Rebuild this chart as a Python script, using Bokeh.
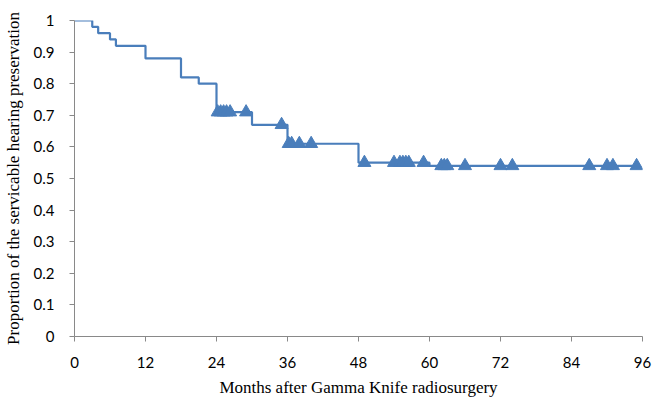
from bokeh.plotting import figure
from bokeh.models import FixedTicker, Range1d
from bokeh.embed import file_html
from bokeh.resources import INLINE

# Kaplan-Meier step curve (time in months, proportion)
step_times = [0, 3, 4, 6, 7, 12, 18, 21, 24, 30, 36, 48, 60, 95]
step_props = [1.0, 0.98, 0.96, 0.94, 0.92, 0.88, 0.82, 0.80, 0.71, 0.67, 0.61, 0.55, 0.54, 0.54]

# censored observations
cens_times = [24.2, 24.7, 25.2, 25.7, 26.3, 29, 35, 36.2, 36.7, 38, 40,
              49, 54, 55, 55.5, 56, 56.5, 59, 62, 62.5, 63, 66, 72, 74, 87, 90, 91, 95]
cens_props = [0.71, 0.71, 0.71, 0.71, 0.71, 0.71, 0.67, 0.61, 0.61, 0.61, 0.61,
              0.55, 0.55, 0.55, 0.55, 0.55, 0.55, 0.55, 0.54, 0.54, 0.54, 0.54, 0.54, 0.54, 0.54, 0.54, 0.54, 0.54]

x_ticks = [0, 12, 24, 36, 48, 60, 72, 84, 96]
y_ticks = [0, 0.1, 0.2, 0.3, 0.4, 0.5, 0.6, 0.7, 0.8, 0.9, 1.0]
y_labels = ["0", "0.1", "0.2", "0.3", "0.4", "0.5", "0.6", "0.7", "0.8", "0.9", "1"]

color = "#4A7EBB"
axis_col = "#898989"

p = figure(width=662, height=399, output_backend="svg", toolbar_location=None,
           x_range=Range1d(0, 96), y_range=Range1d(0, 1.0),
           min_border_left=73, min_border_right=20, min_border_top=20, min_border_bottom=62)
p.outline_line_color = None
p.xgrid.visible = False
p.ygrid.visible = False

p.step(step_times, step_props, mode="after", line_color=color, line_width=2.2)
p.scatter(cens_times, cens_props, marker="triangle", size=13, fill_color=color, line_color=color)

for ax in (p.xaxis, p.yaxis):
    ax.axis_line_color = axis_col
    ax.major_tick_line_color = axis_col
    ax.major_tick_out = 5
    ax.major_tick_in = 0
    ax.minor_tick_line_color = None
    ax.major_label_text_font = "Lato"
    ax.major_label_text_font_size = "15px"
    ax.major_label_text_color = "#000000"
    ax.axis_label_text_font = "Liberation Serif"
    ax.axis_label_text_font_size = "17px"
    ax.axis_label_text_font_style = "normal"
    ax.axis_label_text_color = "#000000"

p.xaxis.ticker = FixedTicker(ticks=x_ticks)
p.yaxis.ticker = FixedTicker(ticks=y_ticks)
p.yaxis.major_label_overrides = {t: l for t, l in zip(y_ticks, y_labels)}
p.xaxis.major_label_standoff = 15
p.yaxis.major_label_standoff = 15
p.xaxis.axis_label = "Months after Gamma Knife radiosurgery"
p.yaxis.axis_label = "Proportion of the servicable hearing preservation"
p.xaxis.axis_label_standoff = 7
p.yaxis.axis_label_standoff = 8

open("out.html", "w").write(file_html(p, INLINE))
